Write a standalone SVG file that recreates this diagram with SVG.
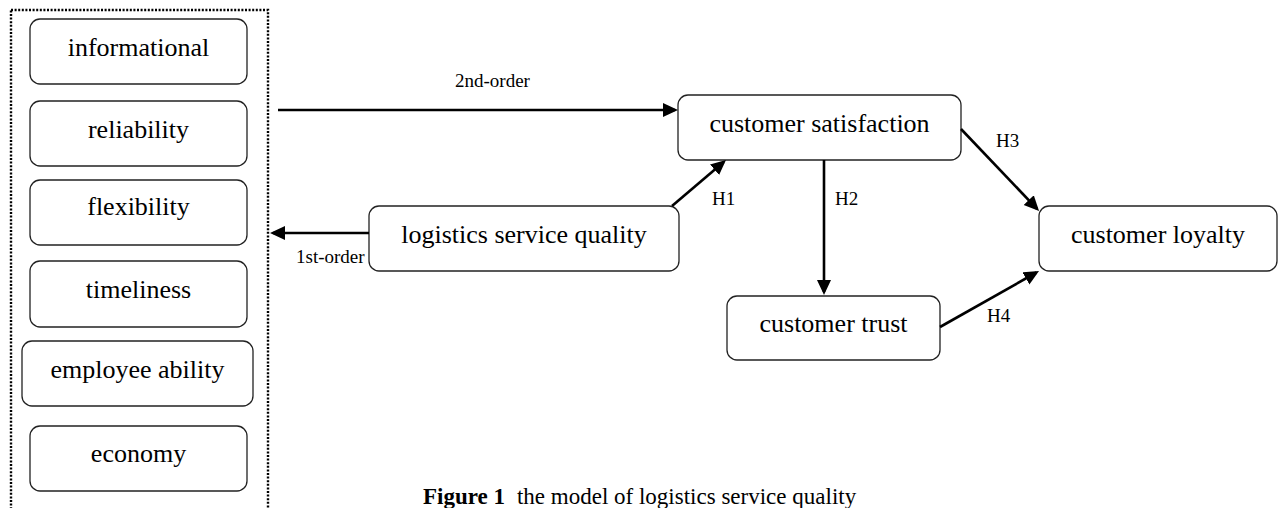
<svg xmlns="http://www.w3.org/2000/svg" width="1281" height="508" viewBox="0 0 1281 508">
<style>
.box{fill:#fff;stroke:#222;stroke-width:1.3}
.lbl{font-family:"Liberation Serif","Times New Roman",serif;font-size:26px;fill:#000;text-anchor:middle}
.sm{font-family:"Liberation Serif","Times New Roman",serif;font-size:19px;fill:#000}
.cap{font-family:"Liberation Serif","Times New Roman",serif;font-size:23px;fill:#000}
.arr{stroke:#000;stroke-width:2.6;fill:none;marker-end:url(#ah)}
</style>
<defs>
<marker id="ah" markerUnits="userSpaceOnUse" markerWidth="16" markerHeight="16" refX="12" refY="7" orient="auto">
<path d="M0,0 L15,7 L0,14 Z" fill="#000"/>
</marker>
</defs>
<rect width="1281" height="508" fill="#fff"/>
<rect id="group-box" x="11" y="10" width="257" height="520" fill="none" stroke="#000" stroke-width="2.4" stroke-dasharray="2 1.6"/>
<g id="informational"><rect class="box" x="30" y="19" width="217" height="65" rx="10"/><text class="lbl" x="138.5" y="56">informational</text></g>
<g id="reliability"><rect class="box" x="30" y="101" width="217" height="65" rx="10"/><text class="lbl" x="138.5" y="138">reliability</text></g>
<g id="flexibility"><rect class="box" x="30" y="180" width="217" height="65" rx="10"/><text class="lbl" x="138.5" y="215">flexibility</text></g>
<g id="timeliness"><rect class="box" x="30" y="261" width="217" height="66" rx="10"/><text class="lbl" x="138.5" y="298">timeliness</text></g>
<g id="employee-ability"><rect class="box" x="22" y="341" width="231" height="65" rx="10"/><text class="lbl" x="137.5" y="378">employee ability</text></g>
<g id="economy"><rect class="box" x="30" y="426" width="217" height="65" rx="10"/><text class="lbl" x="138.5" y="462">economy</text></g>
<g id="customer-satisfaction"><rect class="box" x="678" y="95" width="283" height="65" rx="10"/><text class="lbl" x="819.5" y="132">customer satisfaction</text></g>
<g id="logistics-service-quality"><rect class="box" x="369" y="206" width="310" height="65" rx="10"/><text class="lbl" x="524" y="243">logistics service quality</text></g>
<g id="customer-loyalty"><rect class="box" x="1039" y="206" width="238" height="65" rx="10"/><text class="lbl" x="1158" y="243">customer loyalty</text></g>
<g id="customer-trust"><rect class="box" x="727" y="296" width="213" height="64" rx="10"/><text class="lbl" x="833.5" y="332">customer trust</text></g>
<g id="connectors">
<line class="arr" x1="278" y1="110" x2="675" y2="110"/>
<text class="sm" x="455" y="87">2nd-order</text>
<line class="arr" x1="369" y1="233" x2="273" y2="233"/>
<text class="sm" x="296" y="263">1st-order</text>
<line class="arr" x1="672" y1="206" x2="723.7" y2="162"/>
<text class="sm" x="712" y="205">H1</text>
<line class="arr" x1="824" y1="160" x2="824" y2="292"/>
<text class="sm" x="835" y="205">H2</text>
<line class="arr" x1="961" y1="129" x2="1037" y2="208.8"/>
<text class="sm" x="996" y="147">H3</text>
<line class="arr" x1="940" y1="327" x2="1036.4" y2="272.5"/>
<text class="sm" x="987" y="322">H4</text>
</g>
<text class="cap" x="423" y="504"><tspan font-weight="bold">Figure 1</tspan><tspan dx="12">the model of logistics service quality</tspan></text>
</svg>
